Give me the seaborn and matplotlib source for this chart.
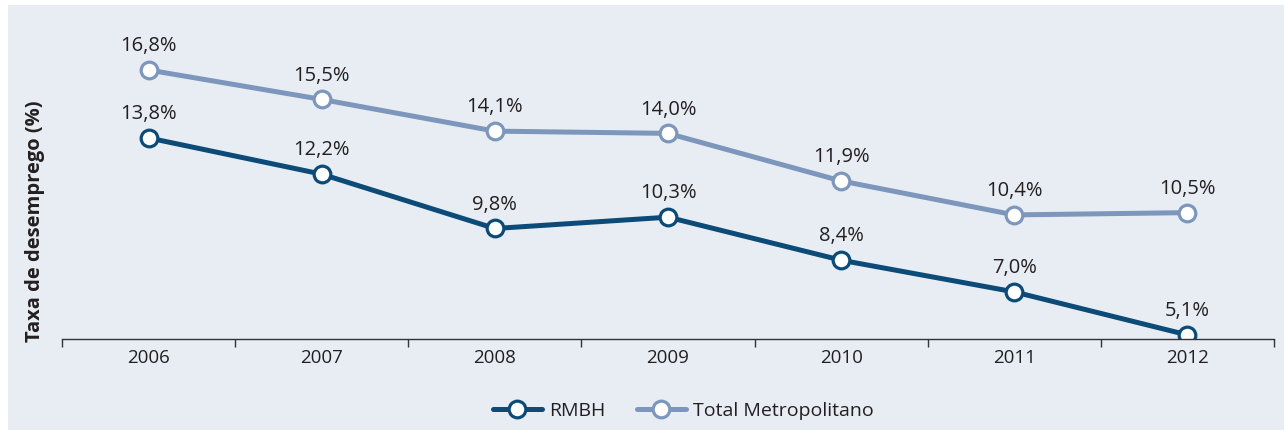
import numpy as np
import pandas as pd
import matplotlib
matplotlib.use("Agg")
import matplotlib.pyplot as plt
from matplotlib.patches import Rectangle
import seaborn as sns

# data
anos = ["2006", "2007", "2008", "2009", "2010", "2011", "2012"]
rmbh = [13.8, 12.2, 9.8, 10.3, 8.4, 7.0, 5.1]
total_metro = [16.8, 15.5, 14.1, 14.0, 11.9, 10.4, 10.5]
series_names = ["RMBH", "Total Metropolitano"]

BG = "#e8edf4"
DARK = "#0c4a78"
LIGHT = "#7d96bc"
TXT = "#231f20"

sns.set_theme(style="white")
plt.rcParams["font.family"] = ["Open Sans", "DejaVu Sans"]

df = pd.DataFrame({
    "pos": list(range(len(anos))) * 2,
    "valor": rmbh + total_metro,
    "serie": [series_names[0]] * len(anos) + [series_names[1]] * len(anos),
})

fig = plt.figure(figsize=(12.85, 4.3), dpi=100)
fig.patch.set_facecolor("white")
fig.add_artist(Rectangle((8 / 1285, 0), 1276 / 1285, 425 / 430,
                         transform=fig.transFigure, facecolor=BG,
                         edgecolor="none", zorder=0))
ax = fig.add_axes([62 / 1285, 1 - 339 / 430, (1274 - 62) / 1285, (339 - 5) / 430])
ax.set_facecolor("none")

sns.lineplot(data=df, x="pos", y="valor", hue="serie",
             palette={series_names[0]: DARK, series_names[1]: LIGHT},
             marker="o", markersize=12, linewidth=3.6, ax=ax, legend=False)

for line in ax.lines:
    line.set_markerfacecolor("white")
    line.set_markeredgecolor(line.get_color())
    line.set_markeredgewidth(2.3)
    line.set_solid_joinstyle("round")

# value labels
for vals in (rmbh, total_metro):
    for i, v in enumerate(vals):
        ax.annotate(f"{v:.1f}%".replace(".", ","), (i, v), xytext=(0, 10),
                    textcoords="offset points", ha="center", va="bottom",
                    fontsize=14.5, color=TXT)

ax.set_xlim(-0.5, len(anos) - 0.5)
ax.set_ylim(4.92, 19.67)
ax.set_yticks([])
ax.set_xticks(np.arange(-0.5, len(anos)))
ax.set_xticklabels([])
ax.set_xticks(np.arange(len(anos)), minor=True)
ax.set_xticklabels(anos, minor=True)
ax.tick_params(axis="x", which="major", direction="out", length=6,
               width=1, color="#333333", bottom=True)
ax.tick_params(axis="x", which="minor", length=0, pad=7, labelsize=13.5,
               labelcolor=TXT, bottom=True)
ax.set_xlabel("")
ax.set_ylabel("")
fig.text(35 / 1285, 1 - 342 / 430, "Taxa de desemprego (%)", rotation=90,
         ha="center", va="bottom", fontsize=14.5, fontweight="bold", color=TXT)

for s in ["top", "right", "left"]:
    ax.spines[s].set_visible(False)
ax.spines["bottom"].set_color("#333333")
ax.spines["bottom"].set_linewidth(1)

fig.legend(handles=ax.lines[:2], labels=series_names, loc="center",
           bbox_to_anchor=(0.532, 0.045), ncol=2, frameon=False,
           handlelength=2.5, handletextpad=0.4, columnspacing=1.6,
           fontsize=14, labelcolor=TXT)

fig.savefig("out.png", dpi=100)
